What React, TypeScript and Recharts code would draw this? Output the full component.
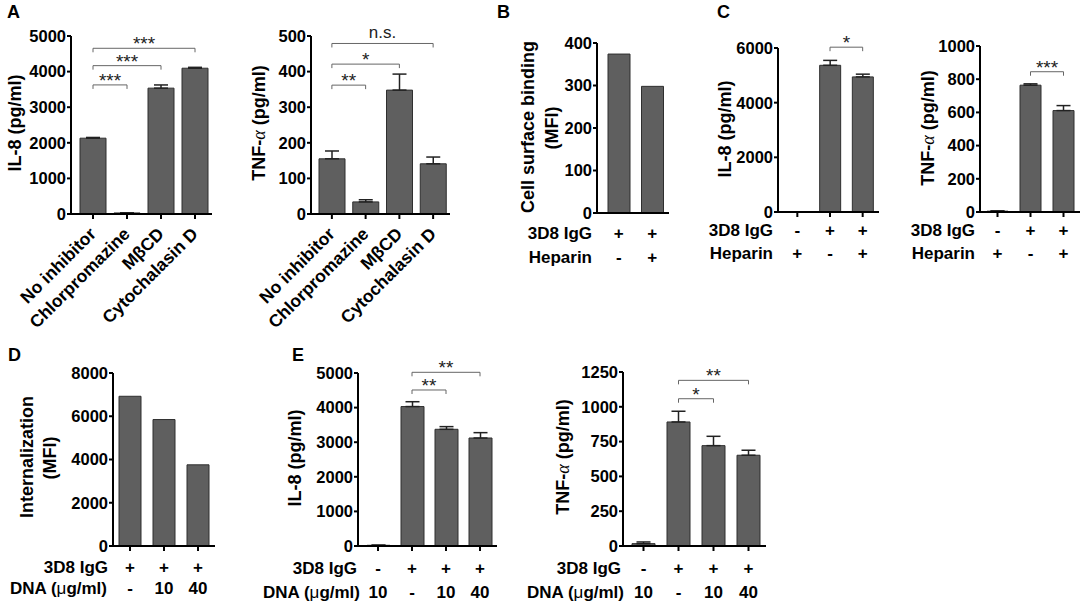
import { Bar, BarChart, ErrorBar, ReferenceLine, XAxis, YAxis } from "recharts"

const FONT = '"Liberation Sans", Arial, sans-serif'
const BAR_FILL = "#5f5f5f"
const BAR_STROKE = "#2f2f2f"

// Panel A
const inhibitors = ["No inhibitor", "Chlorpromazine", "MβCD", "Cytochalasin D"]
const il8Inhibitor = [2130, 30, 3535, 4095]
const il8InhibitorErr = [20, 5, 90, 25]
const tnfInhibitor = [155, 34, 348, 141]
const tnfInhibitorErr = [22, 6, 45, 19]

// Panel B
const bindingGroups = ["g1", "g2"]
const bindingMfi = [374, 298]
const bindingIgG = ["+", "+"]
const bindingHeparin = ["-", "+"]

// Panel C
const heparinGroups = ["g1", "g2", "g3"]
const il8Heparin = [0, 5367, 4943]
const il8HeparinErr = [0, 180, 100]
const tnfHeparin = [5, 764, 611]
const tnfHeparinErr = [2, 8, 30]
const heparinIgG = ["-", "+", "+"]
const heparinRow = ["+", "-", "+"]

// Panel D
const internGroups = ["g1", "g2", "g3"]
const internMfi = [6924, 5848, 3754]
const internIgG = ["+", "+", "+"]
const internDna = ["-", "10", "40"]

// Panel E
const dnaGroups = ["g1", "g2", "g3", "g4"]
const il8Dna = [20, 4030, 3373, 3121]
const il8DnaErr = [5, 140, 77, 155]
const tnfDna = [17, 891, 721, 652]
const tnfDnaErr = [12, 77, 67, 36]
const dnaIgG = ["-", "+", "+", "+"]
const dnaConc = ["10", "-", "10", "40"]

type Bracket = { from: string; to: string; y: number; text: string }

const build = (cats: string[], vals: number[], errs?: number[]) =>
  cats.map((c, i) => ({ cat: c, value: vals[i], err: [0, errs ? errs[i] : 0] }))

interface PanelProps {
  data: Array<{ cat: string; value: number; err: number[] }>
  axisX: number
  plotRight: number
  yTop: number
  yBottom: number
  padLeft: number
  max: number
  ticks: number[]
  barSize: number
  errors?: boolean
  xTickLine?: boolean
  tick: any
  brackets?: Bracket[]
}

function Panel({
  data,
  axisX,
  plotRight,
  yTop,
  yBottom,
  padLeft,
  max,
  ticks,
  barSize,
  errors = true,
  xTickLine = true,
  tick,
  brackets = [],
}: PanelProps) {
  const tip = (4 * max) / (yBottom - yTop)
  return (
    <div style={{ position: "absolute", left: 0, top: 0 }}>
      <BarChart
        width={1084}
        height={606}
        data={data}
        margin={{ top: yTop, left: axisX - 50, right: 1084 - plotRight, bottom: 606 - yBottom - 40 }}
      >
        <XAxis
          dataKey="cat"
          height={40}
          padding={{ left: padLeft, right: 0 }}
          axisLine={{ stroke: "#000", strokeWidth: 2 }}
          tickLine={xTickLine ? { stroke: "#000", strokeWidth: 2 } : false}
          tickSize={5}
          interval={0}
          tick={tick}
        />
        <YAxis
          width={50}
          domain={[0, max]}
          ticks={ticks}
          allowDataOverflow
          axisLine={{ stroke: "#000", strokeWidth: 2 }}
          tickLine={{ stroke: "#000", strokeWidth: 2 }}
          tickSize={4}
          tickMargin={1}
          tick={{ fill: "#000", fontSize: 16.5, fontWeight: "bold", fontFamily: FONT }}
        />
        <Bar dataKey="value" fill={BAR_FILL} stroke={BAR_STROKE} strokeWidth={1} barSize={barSize} isAnimationActive={false}>
          {errors && (
            <ErrorBar dataKey="err" width={7} stroke="#222" strokeWidth={1.5} direction="y" isAnimationActive={false} />
          )}
        </Bar>
        {brackets.map((b, i) => [
          <ReferenceLine
            key={`h${i}`}
            segment={[{ x: b.from, y: b.y }, { x: b.to, y: b.y }]}
            stroke="#666"
            strokeWidth={1}
            ifOverflow="visible"
            label={{
              content: (p: any) => {
                const vb = p.viewBox || {}
                const cx = vb.x1 !== undefined ? (vb.x1 + vb.x2) / 2 : vb.x + (vb.width || 0) / 2
                const cy = vb.y1 !== undefined ? vb.y1 : vb.y
                const ns = b.text === "n.s."
                return (
                  <text
                    x={cx}
                    y={ns ? cy - 5 : cy + 2}
                    textAnchor="middle"
                    fontSize={ns ? 17 : 19}
                    fontFamily={FONT}
                    fill="#222"
                  >
                    {b.text}
                  </text>
                )
              },
            }}
          />,
          <ReferenceLine
            key={`l${i}`}
            segment={[{ x: b.from, y: b.y }, { x: b.from, y: b.y - tip }]}
            stroke="#666"
            strokeWidth={1}
            ifOverflow="visible"
          />,
          <ReferenceLine
            key={`r${i}`}
            segment={[{ x: b.to, y: b.y }, { x: b.to, y: b.y - tip }]}
            stroke="#666"
            strokeWidth={1}
            ifOverflow="visible"
          />,
        ])}
      </BarChart>
    </div>
  )
}

const rotatedTick = (props: any) => {
  const { x, payload } = props
  const ax = x + 4
  const ay = 235
  return (
    <text
      x={ax}
      y={ay}
      textAnchor="end"
      transform={`rotate(-45 ${ax} ${ay})`}
      fontSize={17.5}
      fontWeight="bold"
      fontFamily={FONT}
      fill="#000"
    >
      {payload.value}
    </text>
  )
}

const rowTick = (cats: string[], rows: string[][], baselines: number[]) => (props: any) => {
  const { x, payload } = props
  const idx = cats.indexOf(payload.value)
  return (
    <g>
      {rows.map((r, i) => (
        <text key={i} x={x} y={baselines[i]} textAnchor="middle" fontSize={17} fontWeight="bold" fontFamily={FONT} fill="#000">
          {r[idx]}
        </text>
      ))}
    </g>
  )
}

const txt = { fontFamily: FONT, fontWeight: "bold" as const, fill: "#000" }

function YTitle({ x, y, children, size = 18 }: { x: number; y: number; children: any; size?: number }) {
  return (
    <text x={x} y={y} textAnchor="middle" dominantBaseline="central" fontSize={size} transform={`rotate(-90 ${x} ${y})`} {...txt}>
      {children}
    </text>
  )
}

const alpha = (
  <tspan fontFamily='"Liberation Serif", serif' fontStyle="italic" fontWeight="normal">
    α
  </tspan>
)
const mu = <tspan fontWeight="normal">μ</tspan>

function RowLabel({ x, y, children }: { x: number; y: number; children: any }) {
  return (
    <text x={x} y={y} textAnchor="end" fontSize={17} {...txt}>
      {children}
    </text>
  )
}

export default function App() {
  return (
    <div style={{ position: "absolute", left: 0, top: 0, width: 1084, height: 606, background: "#fff", overflow: "hidden" }}>
      <Panel
        data={build(inhibitors, il8Inhibitor, il8InhibitorErr)}
        axisX={71}
        plotRight={212}
        yTop={36}
        yBottom={214}
        padLeft={5}
        max={5000}
        ticks={[0, 1000, 2000, 3000, 4000, 5000]}
        barSize={26}
        tick={rotatedTick}
        brackets={[
          { from: inhibitors[0], to: inhibitors[1], y: 3626, text: "***" },
          { from: inhibitors[0], to: inhibitors[2], y: 4167, text: "***" },
          { from: inhibitors[0], to: inhibitors[3], y: 4655, text: "***" },
        ]}
      />
      <Panel
        data={build(inhibitors, tnfInhibitor, tnfInhibitorErr)}
        axisX={311}
        plotRight={450}
        yTop={36}
        yBottom={214}
        padLeft={4}
        max={500}
        ticks={[0, 100, 200, 300, 400, 500]}
        barSize={26}
        tick={rotatedTick}
        brackets={[
          { from: inhibitors[0], to: inhibitors[1], y: 362, text: "**" },
          { from: inhibitors[0], to: inhibitors[2], y: 421, text: "*" },
          { from: inhibitors[0], to: inhibitors[3], y: 479, text: "n.s." },
        ]}
      />
      <Panel
        data={build(bindingGroups, bindingMfi)}
        axisX={597}
        plotRight={669}
        yTop={43}
        yBottom={213}
        padLeft={5}
        max={400}
        ticks={[0, 100, 200, 300, 400]}
        barSize={22}
        errors={false}
        xTickLine={false}
        tick={rowTick(bindingGroups, [bindingIgG, bindingHeparin], [239, 263])}
      />
      <Panel
        data={build(heparinGroups, il8Heparin, il8HeparinErr)}
        axisX={778}
        plotRight={879}
        yTop={48}
        yBottom={212}
        padLeft={3}
        max={6000}
        ticks={[0, 2000, 4000, 6000]}
        barSize={21}
        tick={rowTick(heparinGroups, [heparinIgG, heparinRow], [236, 259])}
        brackets={[{ from: heparinGroups[1], to: heparinGroups[2], y: 6030, text: "*" }]}
      />
      <Panel
        data={build(heparinGroups, tnfHeparin, tnfHeparinErr)}
        axisX={980}
        plotRight={1080}
        yTop={46}
        yBottom={212}
        padLeft={1}
        max={1000}
        ticks={[0, 200, 400, 600, 800, 1000]}
        barSize={21}
        tick={rowTick(heparinGroups, [heparinIgG, heparinRow], [236, 259])}
        brackets={[{ from: heparinGroups[1], to: heparinGroups[2], y: 845, text: "***" }]}
      />
      <Panel
        data={build(internGroups, internMfi)}
        axisX={113}
        plotRight={215}
        yTop={373}
        yBottom={546}
        padLeft={0}
        max={8000}
        ticks={[0, 2000, 4000, 6000, 8000]}
        barSize={22}
        errors={false}
        tick={rowTick(internGroups, [internIgG, internDna], [573, 594])}
      />
      <Panel
        data={build(dnaGroups, il8Dna, il8DnaErr)}
        axisX={358}
        plotRight={497}
        yTop={373}
        yBottom={546}
        padLeft={3}
        max={5000}
        ticks={[0, 1000, 2000, 3000, 4000, 5000]}
        barSize={23}
        tick={rowTick(dnaGroups, [dnaIgG, dnaConc], [574, 598])}
        brackets={[
          { from: dnaGroups[1], to: dnaGroups[2], y: 4509, text: "**" },
          { from: dnaGroups[1], to: dnaGroups[3], y: 5020, text: "**" },
        ]}
      />
      <Panel
        data={build(dnaGroups, tnfDna, tnfDnaErr)}
        axisX={623}
        plotRight={766}
        yTop={372}
        yBottom={546}
        padLeft={3}
        max={1250}
        ticks={[0, 250, 500, 750, 1000, 1250]}
        barSize={23}
        tick={rowTick(dnaGroups, [dnaIgG, dnaConc], [574, 598])}
        brackets={[
          { from: dnaGroups[1], to: dnaGroups[2], y: 1058, text: "*" },
          { from: dnaGroups[1], to: dnaGroups[3], y: 1190, text: "**" },
        ]}
      />
      <svg width={1084} height={606} style={{ position: "absolute", left: 0, top: 0, pointerEvents: "none" }}>
        <text x={7} y={18} fontSize={18} {...txt}>A</text>
        <text x={497} y={18} fontSize={18} {...txt}>B</text>
        <text x={717} y={18} fontSize={18} {...txt}>C</text>
        <text x={8} y={361} fontSize={18} {...txt}>D</text>
        <text x={292} y={361} fontSize={18} {...txt}>E</text>

        <YTitle x={15} y={123}>IL-8 (pg/ml)</YTitle>
        <YTitle x={259} y={123}>TNF-{alpha} (pg/ml)</YTitle>
        <YTitle x={528} y={127}>Cell surface binding</YTitle>
        <YTitle x={552} y={128}>(MFI)</YTitle>
        <YTitle x={725} y={129}>IL-8 (pg/ml)</YTitle>
        <YTitle x={928} y={128}>TNF-{alpha} (pg/ml)</YTitle>
        <YTitle x={27} y={457}>Internalization</YTitle>
        <YTitle x={50} y={458}>(MFI)</YTitle>
        <YTitle x={295} y={458}>IL-8 (pg/ml)</YTitle>
        <YTitle x={563} y={457}>TNF-{alpha} (pg/ml)</YTitle>

        <RowLabel x={592} y={239}>3D8 IgG</RowLabel>
        <RowLabel x={592} y={263}>Heparin</RowLabel>
        <RowLabel x={773} y={236}>3D8 IgG</RowLabel>
        <RowLabel x={773} y={259}>Heparin</RowLabel>
        <RowLabel x={975} y={236}>3D8 IgG</RowLabel>
        <RowLabel x={975} y={259}>Heparin</RowLabel>
        <RowLabel x={108} y={573}>3D8 IgG</RowLabel>
        <RowLabel x={107} y={594}>DNA ({mu}g/ml)</RowLabel>
        <RowLabel x={357} y={574}>3D8 IgG</RowLabel>
        <RowLabel x={360} y={598}>DNA ({mu}g/ml)</RowLabel>
        <RowLabel x={621} y={574}>3D8 IgG</RowLabel>
        <RowLabel x={624} y={598}>DNA ({mu}g/ml)</RowLabel>
      </svg>
    </div>
  )
}
